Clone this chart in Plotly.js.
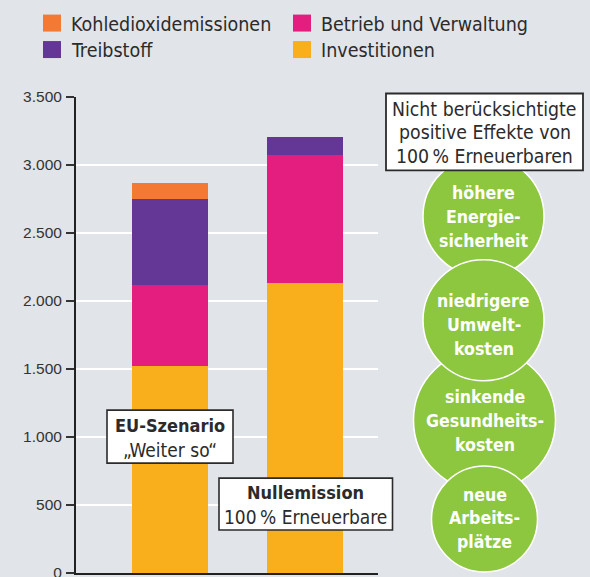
<!DOCTYPE html>
<html>
<head>
<meta charset="utf-8">
<script src="https://cdn.plot.ly/plotly-3.0.1.min.js"></script>
<style>
  body { margin: 0; background: #e1e4e8; }
  #chart { width: 590px; height: 577px; }
</style>
</head>
<body>
<div id="chart"></div>
<script>
var categories = ["EU-Szenario", "Nullemission"];
var investitionen = [1520, 2130];
var betrieb = [600, 945];
var treibstoff = [630, 130];
var kohle = [120, 0];
var yTicks = [0, 500, 1000, 1500, 2000, 2500, 3000, 3500];

var seriesNames = ["Investitionen", "Betrieb und Verwaltung", "Treibstoff", "Kohledioxidemissionen"];
var seriesValues = [investitionen, betrieb, treibstoff, kohle];
var seriesColors = ["#f9ae1b", "#e31e7f", "#643695", "#f47a33"];
// legend reading order: row 1 Kohle, Betrieb; row 2 Treibstoff, Investitionen
var legendOrder = [3, 1, 2, 0];

var effekteTitle = ["Nicht berücksichtigte", "positive Effekte von", "100\u202f% Erneuerbaren"];
var effekte = [
	["höhere", "Energie-", "sicherheit"],
	["niedrigere", "Umwelt-", "kosten"],
	["sinkende", "Gesundheits-", "kosten"],
	["neue", "Arbeits-", "plätze"]
];
var barLabels = [
	["EU-Szenario", "„Weiter so“"],
	["Nullemission", "100\u202f% Erneuerbare"]
];

var bg = "#e1e4e8";
var textColor = "#2b2b2b";
var narrow = "DejaVu Sans Condensed, Liberation Sans Narrow, sans-serif";
var fsText = 19;
var fsBold = 18;

// plot area in pixels, used to put the decoration in paper coordinates
var L = 76, R = 378, T = 96.5, B = 573;
function px(x) { return (x - L) / (R - L); }
function py(y) { return (B - y) / (B - T); }

var data = [];
for (var i = 0; i < seriesNames.length; i++) {
	data.push({
		type: "bar",
		x: categories,
		y: seriesValues[i],
		name: seriesNames[i],
		width: 0.563,
		marker: { color: seriesColors[i], line: { width: 0 } },
		hoverinfo: "none",
		showlegend: false
	});
}

var shapes = [];
var annotations = [];

function textLine(txt, x, baseline, size, color, bold) {
	annotations.push({
		xref: "paper", yref: "paper",
		x: px(x), y: py(baseline - 0.35 * size),
		xanchor: "center", yanchor: "middle",
		text: bold ? "<b>" + txt + "</b>" : txt,
		showarrow: false,
		font: { family: narrow, size: size, color: color }
	});
}

// legend
var legX = [43, 293];
var legY = [22.5, 49];
for (var k = 0; k < legendOrder.length; k++) {
	var s = legendOrder[k];
	var cx = legX[k % 2], cy = legY[Math.floor(k / 2)];
	shapes.push({
		type: "rect", xref: "paper", yref: "paper",
		x0: px(cx), x1: px(cx + 18), y0: py(cy + 8.5), y1: py(cy - 8.5),
		fillcolor: seriesColors[s], line: { width: 0 }
	});
	annotations.push({
		xref: "paper", yref: "paper",
		x: px(cx + 26), y: py(cy + 1),
		xanchor: "left", yanchor: "middle",
		text: seriesNames[s], showarrow: false,
		font: { family: narrow, size: fsText + 0.5, color: textColor }
	});
}

// green circles: [cx, cy, r], drawn so that 2 and 4 lie over 1 and 3
var circles = [[483.5, 216, 60.5], [483.5, 320, 60.5], [484.5, 420, 71], [484.5, 519, 53]];
var circleBase = [[199, 223, 247], [307, 331, 355], [403, 427, 451], [501, 524.5, 548]];
var drawOrder = [0, 2, 1, 3];
for (var d = 0; d < drawOrder.length; d++) {
	var c = circles[drawOrder[d]];
	shapes.push({
		type: "circle", xref: "paper", yref: "paper", layer: "above",
		x0: px(c[0] - c[2]), x1: px(c[0] + c[2]),
		y0: py(c[1] + c[2]), y1: py(c[1] - c[2]),
		fillcolor: "#8dc63f", line: { color: "#ffffff", width: 1.5 }
	});
}
for (var e = 0; e < effekte.length; e++) {
	for (var j = 0; j < 3; j++) {
		textLine(effekte[e][j], circles[e][0], circleBase[e][j], 17.6, "#ffffff", true);
	}
}

// box with the title of the circles
shapes.push({
	type: "rect", xref: "paper", yref: "paper", layer: "above",
	x0: px(386), x1: px(583), y0: py(170), y1: py(93),
	fillcolor: "#ffffff", line: { color: "#2b2b2b", width: 1.8 }
});
var titleBase = [115.5, 139, 162.5];
for (var t = 0; t < effekteTitle.length; t++) {
	textLine(effekteTitle[t], 484.5, titleBase[t], fsText + 0.3, textColor, false);
}

// scenario label boxes
var boxes = [[107, 410, 233, 463], [219, 478, 392.5, 530]];
var boxBase = [[431.5, 456.5], [499, 524]];
for (var b = 0; b < boxes.length; b++) {
	var bx = boxes[b];
	shapes.push({
		type: "rect", xref: "paper", yref: "paper", layer: "above",
		x0: px(bx[0]), x1: px(bx[2]), y0: py(bx[3]), y1: py(bx[1]),
		fillcolor: "#ffffff", line: { color: "#2b2b2b", width: 1.6 }
	});
	var mid = (bx[0] + bx[2]) / 2;
	textLine(barLabels[b][0], mid, boxBase[b][0], fsBold, textColor, true);
	textLine(barLabels[b][1], mid, boxBase[b][1], fsText, textColor, false);
}

var layout = {
	width: 590,
	height: 577,
	paper_bgcolor: bg,
	plot_bgcolor: bg,
	barmode: "stack",
	separators: ",.",
	showlegend: false,
	margin: { l: L, r: 590 - R, t: T, b: 577 - B, pad: 0 },
	xaxis: {
		type: "category",
		range: [-0.696, 1.541],
		showticklabels: false,
		ticks: "",
		showgrid: false,
		zeroline: false,
		showline: true,
		linecolor: "#222222",
		linewidth: 2,
		fixedrange: true
	},
	yaxis: {
		range: [0, 3500],
		tickvals: yTicks,
		tickformat: ",d",
		ticks: "outside",
		ticklen: 8,
		tickwidth: 1.5,
		tickcolor: "#333333",
		ticklabelstandoff: 1,
		ticklabeloverflow: "allow",
		tickfont: { family: "Liberation Sans, Arial, sans-serif", size: 15.5, color: "#333333" },
		showgrid: true,
		gridcolor: "#ffffff",
		gridwidth: 1.5,
		zeroline: false,
		showline: true,
		linecolor: "#222222",
		linewidth: 2,
		fixedrange: true
	},
	shapes: shapes,
	annotations: annotations
};

Plotly.newPlot("chart", data, layout, { displayModeBar: false, staticPlot: true });
</script>
</body>
</html>
